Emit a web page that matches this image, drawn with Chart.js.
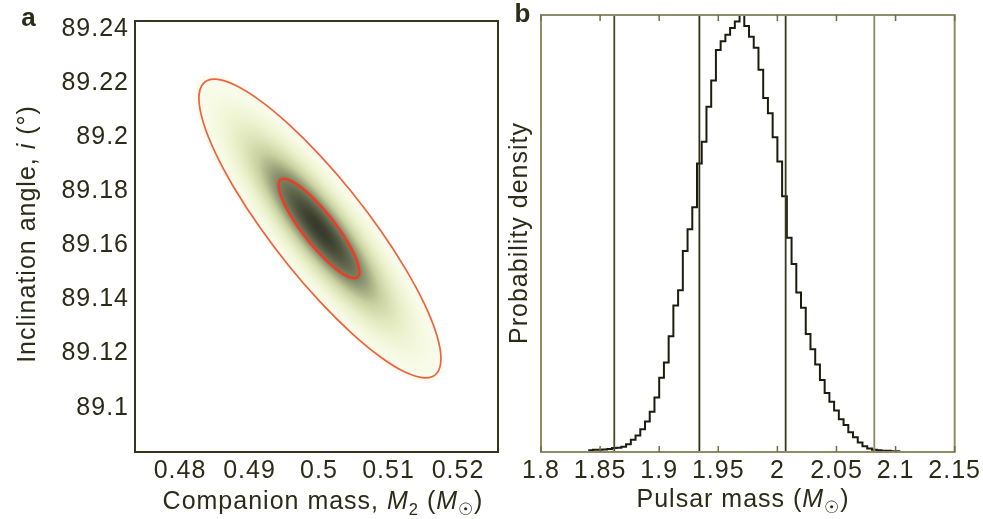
<!DOCTYPE html>
<html><head><meta charset="utf-8">
<script src="https://cdn.jsdelivr.net/npm/chart.js@4"></script>
<style>
html,body{margin:0;padding:0;background:#fff;}
#wrap{position:relative;width:983px;height:519px;overflow:hidden;}
#ca{position:absolute;left:0;top:0;}
#cb{position:absolute;left:500px;top:0;}
</style></head>
<body><div id="wrap"><canvas id="ca" width="500" height="519"></canvas><canvas id="cb" width="483" height="519"></canvas></div>
<script>
// ---------- Panel a data ----------
const companionTicks = [0.48, 0.49, 0.5, 0.51, 0.52];
const companionTickLabels = ['0.48', '0.49', '0.5', '0.51', '0.52'];
const angleTicks = [89.1, 89.12, 89.14, 89.16, 89.18, 89.2, 89.22, 89.24];
const angleTickLabels = ['89.1', '89.12', '89.14', '89.16', '89.18', '89.2', '89.22', '89.24'];

// outer (3-sigma) contour
const outerContourM2 = [0.51755,0.51696,0.51522,0.51245,0.50885,0.50465,0.50014,0.49563,0.49144,0.48783,0.48506,0.48332,
                        0.48273,0.48332,0.48506,0.48783,0.49144,0.49563,0.50014,0.50465,0.50885,0.51245,0.51522,0.51696];
const outerContourI  = [89.11809,89.11273,89.11102,89.11306,89.11873,89.12763,89.13916,89.15253,89.16684,89.18110,89.19435,89.20567,
                        89.21431,89.21967,89.22139,89.21934,89.21367,89.20477,89.19324,89.17987,89.16556,89.15130,89.13806,89.12673];
// inner (1-sigma) contour
const innerContourM2 = [0.50580,0.50561,0.50503,0.50410,0.50290,0.50150,0.50000,0.49850,0.49710,0.49590,0.49497,0.49439,
                        0.49420,0.49439,0.49497,0.49590,0.49710,0.49850,0.50000,0.50150,0.50290,0.50410,0.50503,0.50561];
const innerContourI  = [89.15016,89.14838,89.14781,89.14849,89.15038,89.15334,89.15719,89.16164,89.16641,89.17117,89.17558,89.17936,
                        89.18224,89.18402,89.18460,89.18391,89.18202,89.17906,89.17521,89.17076,89.16599,89.16123,89.15682,89.15304];

// ---------- Panel b data ----------
const pulsarTicks = [1.8, 1.85, 1.9, 1.95, 2, 2.05, 2.1, 2.15];
const pulsarTickLabels = ['1.8', '1.85', '1.9', '1.95', '2', '2.05', '2.1', '2.15'];
const histStart = 1.840;
const histBinWidth = 0.004;
const histDensity = [0.004,0.004,0.005,0.005,0.006,0.007,0.009,0.010,0.012,0.018,0.028,0.038,0.052,0.070,0.092,
  0.125,0.170,0.205,0.265,0.335,0.370,0.460,0.510,0.560,0.660,0.710,0.790,0.850,0.920,0.940,0.955,0.970,0.985,
  1.000,0.975,0.950,0.925,0.875,0.810,0.775,0.720,0.665,0.585,0.490,0.430,0.365,0.330,0.270,0.235,0.200,0.165,
  0.135,0.115,0.095,0.075,0.062,0.045,0.034,0.022,0.013,0.008,0.005,0.004,0.003,0.003,0.002];
const intervalMasses = [1.862, 1.934, 2.007, 2.082];
const intervalColors = ['#4a492c', '#2f2e18', '#3a3920', '#8b8962'];

// ---------- styling ----------
const FAMILY = '"Liberation Sans", Arial, Helvetica, sans-serif';
const TEXT = '#2c2b17';
const TICK_FONT = {family: FAMILY, size: 25};
Chart.defaults.font.family = FAMILY;

function drawRich(ctx, segs, x, y, rot, size) {
  ctx.save();
  ctx.translate(x, y);
  if (rot) ctx.rotate(rot);
  ctx.fillStyle = TEXT;
  ctx.textBaseline = 'middle';
  ctx.textAlign = 'left';
  ctx.letterSpacing = '1px';
  let total = 0;
  const parts = segs.map(s => {
    const fs = s.sub ? size * 0.66 : size;
    const f = (s.bold ? 'bold ' : '') + (s.italic ? 'italic ' : '') + fs + 'px ' + FAMILY;
    ctx.font = f;
    const w = ctx.measureText(s.t).width;
    total += w;
    return {t: s.t, f, w, dy: s.sub ? size * 0.32 : 0};
  });
  let cx = -total / 2;
  parts.forEach(p => { ctx.font = p.f; ctx.fillText(p.t, cx, p.dy); cx += p.w; });
  ctx.restore();
}

function cmap(f) {
  const stops = [[0,[255,255,255]],[0.004,[254,254,250]],[0.011,[250,252,236]],[0.044,[244,248,222]],[0.135,[230,237,196]],
                 [0.32,[200,208,160]],[0.6,[125,132,98]],[1,[55,58,44]]];
  for (let i = 1; i < stops.length; i++) {
    if (f <= stops[i][0]) {
      const a = stops[i-1], b = stops[i];
      const t = (f - a[0]) / (b[0] - a[0]);
      return [0,1,2].map(k => a[1][k] + (b[1][k] - a[1][k]) * t);
    }
  }
  return stops[stops.length-1][1];
}

const spacingPlugin = {
  id: 'spacing',
  beforeDraw(chart) { chart.ctx.letterSpacing = '1px'; }
};

const loopPlugin = {
  id: 'loop',
  afterDatasetsUpdate(chart) {
    chart.data.datasets.forEach((ds, i) => {
      if (ds.closedLoop) { const m = chart.getDatasetMeta(i); if (m.dataset) m.dataset._loop = true; }
    });
  }
};

const densityPlugin = {
  id: 'density',
  beforeDatasetsDraw(chart) {
    const xs = chart.scales.x, ys = chart.scales.y, a = chart.chartArea, ctx = chart.ctx;
    const n = innerContourM2.length;
    let mx = 0, my = 0;
    for (let i = 0; i < n; i++) { mx += innerContourM2[i]; my += innerContourI[i]; }
    mx /= n; my /= n;
    let sxx = 0, syy = 0, sxy = 0;
    for (let i = 0; i < n; i++) {
      const dx = innerContourM2[i] - mx, dy = innerContourI[i] - my;
      sxx += dx*dx; syy += dy*dy; sxy += dx*dy;
    }
    sxx = 2*sxx/n; syy = 2*syy/n; sxy = 2*sxy/n;
    const det = sxx*syy - sxy*sxy;
    const ixx = syy/det, iyy = sxx/det, ixy = -sxy/det;
    const L = Math.round(a.left), T = Math.round(a.top);
    const W = Math.round(a.right) - L, H = Math.round(a.bottom) - T;
    const img = ctx.createImageData(W, H);
    for (let py = 0; py < H; py++) {
      const yv = ys.getValueForPixel(T + py + 0.5) - my;
      for (let px = 0; px < W; px++) {
        const xv = xs.getValueForPixel(L + px + 0.5) - mx;
        const r2 = ixx*xv*xv + 2*ixy*xv*yv + iyy*yv*yv;
        const c = r2 > 9.6 ? [255,255,255] : cmap(Math.exp(-r2/2));
        const o = (py*W + px)*4;
        img.data[o] = c[0]; img.data[o+1] = c[1]; img.data[o+2] = c[2]; img.data[o+3] = 255;
      }
    }
    ctx.putImageData(img, L, T);
  }
};

function framePlugin(color) {
  return {
    id: 'frame',
    afterDatasetsDraw(chart) {
      const a = chart.chartArea, ctx = chart.ctx;
      ctx.save(); ctx.strokeStyle = color; ctx.lineWidth = 2;
      ctx.strokeRect(a.left, a.top, a.right - a.left, a.bottom - a.top);
      ctx.restore();
    }
  };
}

const labelsA = {
  id: 'labelsA',
  afterDraw(chart) {
    const ctx = chart.ctx;
    drawRich(ctx, [{t:'a', bold:true}], 29, 19, 0, 26);
    drawRich(ctx, [{t:'Companion mass, '},{t:'M',italic:true},{t:'2',sub:true},{t:' ('},{t:'M',italic:true},{t:'\u2609',sub:true},{t:')'}], 323, 502, 0, 25);
    drawRich(ctx, [{t:'Inclination angle, '},{t:'i',italic:true},{t:' (\u00b0)'}], 28, 234, -Math.PI/2, 25);
  }
};

const labelsB = {
  id: 'labelsB',
  afterDraw(chart) {
    const ctx = chart.ctx;
    drawRich(ctx, [{t:'b', bold:true}], 23, 15, 0, 26);
    drawRich(ctx, [{t:'Pulsar mass ('},{t:'M',italic:true},{t:'\u2609',sub:true},{t:')'}], 243, 500, 0, 25);
    drawRich(ctx, [{t:'Probability density'}], 20, 233, -Math.PI/2, 25);
  }
};

const innerTicksB = {
  id: 'innerTicks',
  afterDatasetsDraw(chart) {
    const xs = chart.scales.x, a = chart.chartArea, ctx = chart.ctx;
    ctx.save(); ctx.strokeStyle = '#6f6d4a'; ctx.lineWidth = 1.5;
    pulsarTicks.forEach(v => {
      const px = xs.getPixelForValue(v);
      ctx.beginPath();
      ctx.moveTo(px, a.top); ctx.lineTo(px, a.top + 6);
      ctx.moveTo(px, a.bottom); ctx.lineTo(px, a.bottom - 6);
      ctx.stroke();
    });
    ctx.restore();
  }
};

// ---------- Chart a ----------
const toPts = (xs, ys) => xs.map((x, i) => ({x, y: ys[i]}));
new Chart(document.getElementById('ca'), {
  type: 'line',
  data: {
    datasets: [
      {data: toPts(outerContourM2, outerContourI), borderColor: '#f0623f', borderWidth: 1.7, tension: 0.4,
       spanGaps: true, closedLoop: true, pointRadius: 0, fill: false},
      {data: toPts(innerContourM2, innerContourI), borderColor: '#ea3d2b', borderWidth: 2.6, tension: 0.4,
       spanGaps: true, closedLoop: true, pointRadius: 0, fill: false}
    ]
  },
  options: {
    responsive: false, animation: false, devicePixelRatio: 1, events: [],
    layout: {padding: {left: 0, top: 15, right: 2, bottom: 0}},
    plugins: {legend: {display: false}, tooltip: {enabled: false}},
    scales: {
      x: {type: 'linear', min: 0.47353, max: 0.52576,
          grid: {display: false, drawTicks: false}, border: {display: false},
          ticks: {font: TICK_FONT, color: TEXT, padding: 4, maxRotation: 0, callback: (v, i) => companionTickLabels[i]},
          afterBuildTicks: s => { s.ticks = companionTicks.map(v => ({value: v})); },
          afterFit: s => { s.height = 67; }},
      y: {type: 'linear', min: 89.0836, max: 89.2429,
          grid: {display: false, drawTicks: false}, border: {display: false},
          ticks: {font: TICK_FONT, color: TEXT, padding: 6, callback: (v, i) => angleTickLabels[i]},
          afterBuildTicks: s => { s.ticks = angleTicks.map(v => ({value: v})); },
          afterFit: s => { s.width = 135; }}
    }
  },
  plugins: [spacingPlugin, loopPlugin, densityPlugin, framePlugin('#35341f'), labelsA]
});

// ---------- Chart b ----------
const histPoints = histDensity.map((d, i) => ({x: histStart + i * histBinWidth, y: d}));
histPoints.push({x: histStart + histDensity.length * histBinWidth, y: histDensity[histDensity.length - 1]});
const lineSets = intervalMasses.map((m, i) => ({
  data: [{x: m, y: 0}, {x: m, y: 1}], borderColor: intervalColors[i], borderWidth: 1.8, pointRadius: 0, fill: false
}));
new Chart(document.getElementById('cb'), {
  type: 'line',
  data: {
    datasets: [
      ...lineSets,
      {data: histPoints, stepped: 'after', borderColor: '#1c1c0e', borderWidth: 2, pointRadius: 0, fill: false}
    ]
  },
  options: {
    responsive: false, animation: false, devicePixelRatio: 1, events: [],
    layout: {padding: {left: 41, top: 15, right: 28, bottom: 0}},
    plugins: {legend: {display: false}, tooltip: {enabled: false}},
    scales: {
      x: {type: 'linear', min: 1.8, max: 2.15,
          grid: {display: false, drawTicks: false}, border: {display: false},
          ticks: {font: TICK_FONT, color: TEXT, padding: 4, maxRotation: 0, callback: (v, i) => pulsarTickLabels[i]},
          afterBuildTicks: s => { s.ticks = pulsarTicks.map(v => ({value: v})); },
          afterFit: s => { s.height = 67; }},
      y: {type: 'linear', min: 0, max: 1, display: false}
    }
  },
  plugins: [spacingPlugin, framePlugin('#8f8d68'), innerTicksB, labelsB]
});
</script>
</body></html>
